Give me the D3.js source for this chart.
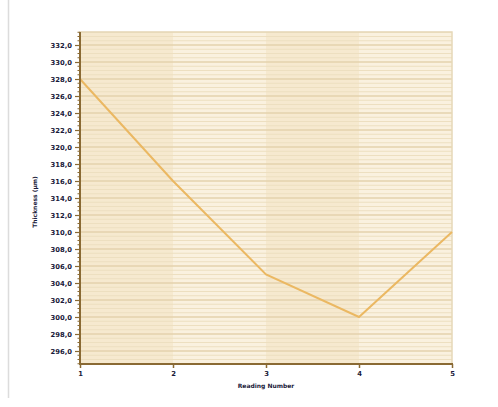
<!DOCTYPE html>
<html><head><meta charset="utf-8">
<script src="https://cdn.jsdelivr.net/npm/d3@7"></script>
<style>body{margin:0;background:#fff}svg{display:block}</style>
</head><body>
<svg id="c" width="498" height="407"></svg>
<script>
const readings = [1, 2, 3, 4, 5];
const thickness = [328, 316, 305, 300, 310];
const yTicks = [332,330,328,326,324,322,320,318,316,314,312,310,308,306,304,302,300,298,296];
const yDomain = [294.47, 333.53];
const xTitle = "Reading Number";
const yTitle = "Thickness (µm)";

const svg = d3.select("#c");
const L = 80, R = 452, T = 32, B = 364;
const x = d3.scaleLinear().domain([1,5]).range([L,R]);
const y = d3.scaleLinear().domain(yDomain).range([B,T]);

svg.append("line").attr("x1",8.5).attr("x2",8.5).attr("y1",0).attr("y2",398)
  .attr("stroke","#dcdcdc").attr("stroke-width",1.5);

svg.append("rect").attr("x",L).attr("y",T).attr("width",R-L).attr("height",B-T).attr("fill","#faf1df");
[[1,2],[3,4]].forEach(([a,b])=>{
  svg.append("rect").attr("x",x(a)).attr("y",T).attr("width",x(b)-x(a)).attr("height",B-T).attr("fill","#f6e9cf");
});

const minor = d3.range(Math.ceil(yDomain[0]*2)/2, yDomain[1], 0.5);
svg.append("g").selectAll("line").data(minor).join("line")
  .attr("x1",L).attr("x2",R).attr("y1",d=>y(d)).attr("y2",d=>y(d))
  .attr("stroke","#eddfc0").attr("stroke-width",1);
svg.append("g").selectAll("line").data(yTicks).join("line")
  .attr("x1",L).attr("x2",R).attr("y1",d=>y(d)).attr("y2",d=>y(d))
  .attr("stroke","#dfcca3").attr("stroke-width",1.2);

svg.append("rect").attr("x",L).attr("y",T).attr("width",R-L).attr("height",B-T)
  .attr("fill","none").attr("stroke","#e6d8b8").attr("stroke-width",1.5);

svg.append("path").datum(readings.map((r,i)=>[r,thickness[i]]))
  .attr("d", d3.line().x(d=>x(d[0])).y(d=>y(d[1])))
  .attr("fill","none").attr("stroke","#ebb862").attr("stroke-width",2);

const yAxis = d3.axisLeft(y).tickValues(yTicks).tickFormat(d=>d3.format(".1f")(d).replace(".",",")).tickSize(5).tickPadding(3);
const gy = svg.append("g").attr("transform",`translate(${L},0)`).call(yAxis);
gy.select(".domain").remove();
gy.selectAll(".tick line").attr("stroke","#8a6a34").attr("stroke-width",1.2);
gy.selectAll("text").attr("font-family","DejaVu Sans").attr("font-size",6.8).attr("font-weight","bold").attr("fill","#1a1a3a");
svg.append("g").selectAll("line").data(minor.filter(d=>!yTicks.includes(d))).join("line")
  .attr("x1",L-2.5).attr("x2",L).attr("y1",d=>y(d)).attr("y2",d=>y(d))
  .attr("stroke","#8a6a34").attr("stroke-width",1);
svg.append("line").attr("x1",L).attr("x2",L).attr("y1",T).attr("y2",B+1).attr("stroke","#8a6a34").attr("stroke-width",2);

const xAxis = d3.axisBottom(x).tickValues(readings).tickFormat(d3.format("d")).tickSize(4).tickPadding(3);
const gx = svg.append("g").attr("transform",`translate(0,${B})`).call(xAxis);
gx.select(".domain").remove();
gx.selectAll(".tick line").attr("stroke","#8a6a34").attr("stroke-width",1.5);
gx.selectAll("text").attr("font-family","DejaVu Sans").attr("font-size",6.8).attr("font-weight","bold").attr("fill","#1a1a3a");
svg.append("line").attr("x1",L-1).attr("x2",R+1).attr("y1",B).attr("y2",B).attr("stroke","#8a6a34").attr("stroke-width",2);

svg.append("text").attr("x",(L+R)/2).attr("y",388).attr("text-anchor","middle")
  .attr("font-family","DejaVu Sans").attr("font-size",6).attr("font-weight","bold").attr("fill","#1a1a3a").text(xTitle);
svg.append("text").attr("transform",`translate(37,${(T+B)/2 + 4}) rotate(-90)`).attr("text-anchor","middle")
  .attr("font-family","DejaVu Sans").attr("font-size",6).attr("font-weight","bold").attr("fill","#1a1a3a").text(yTitle);
</script>
</body></html>
